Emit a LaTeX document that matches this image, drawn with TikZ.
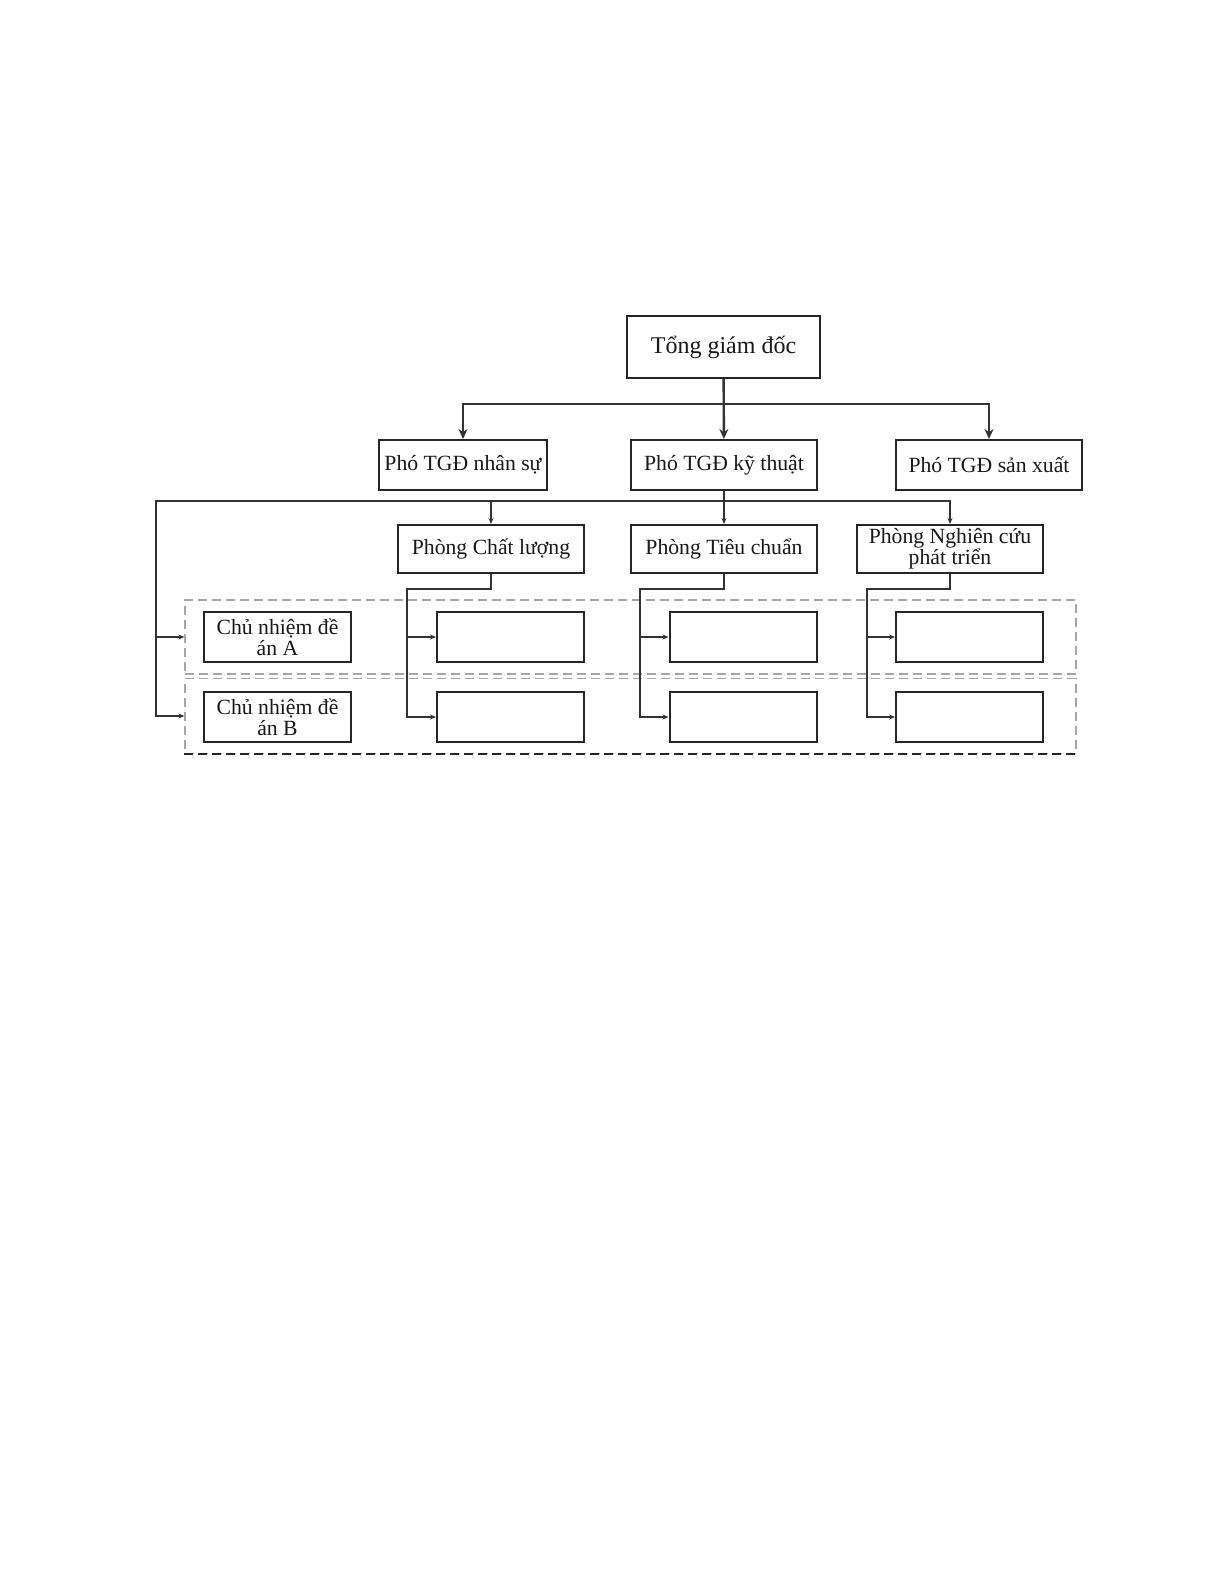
\documentclass[tikz,border=0pt]{standalone}
\usepackage{fontspec}
\setmainfont{Liberation Serif}
\usetikzlibrary{arrows.meta}

\def\lblsize{\fontsize{21.7}{21}\selectfont}

\begin{document}
\begin{tikzpicture}[x=1pt, y=-1pt,
    box/.style={draw=black!85, line width=2pt, rectangle, inner sep=0pt,
      align=center, font=\lblsize, text=black!90},
    group/.style={draw=black!35, line width=1.3pt, dash pattern=on 9pt off 5pt,
      rectangle, inner sep=0pt},
    link/.style={draw=black!80, line width=1.4pt},
    toparrow/.style={link, -{Stealth[length=10pt,width=9pt]}},
    smallarrow/.style={link, -{Stealth[length=6pt,width=5pt]}}]
      \useasboundingbox (0,0) rectangle (1225,1585);
      \fill[white] (0,0) rectangle (1225,1585);
      % top levels
      \node[box, minimum width=193pt, minimum height=62pt, font=\fontsize{24}{26}\selectfont] (tong) at (723.5,347) {Tổng giám đốc};
      \node[box, minimum width=168pt, minimum height=50pt] (phoNS) at (463,465) {Phó TGĐ nhân sự};
      \node[box, minimum width=186pt, minimum height=50pt] (phoKT) at (724,465) {Phó TGĐ kỹ thuật};
      \node[box, minimum width=186pt, minimum height=50pt] (phoSX) at (989,465) {Phó TGĐ sản xuất};
      % phong
      \node[box, minimum width=186pt, minimum height=48pt] (pCL) at (491,549) {Phòng Chất lượng};
      \node[box, minimum width=186pt, minimum height=48pt] (pTC) at (724,549) {Phòng Tiêu chuẩn};
      \node[box, minimum width=186pt, minimum height=48pt] (pNC) at (950,549) {Phòng Nghiên cứu\\phát triển};
      % project groups
      \node[group, minimum width=891pt, minimum height=74pt] (grpA) at (630.5,637) {};
      \node[group, minimum width=891pt, minimum height=75pt] (grpB) at (630.5,716) {};
      \draw[black!85, line width=2pt, dash pattern=on 9pt off 5pt] (grpB.south west) -- (grpB.south east);
      \node[box, minimum width=147pt, minimum height=50pt] (cnA) at (277.5,637) {Chủ nhiệm đề\\án A};
      \node[box, minimum width=147pt, minimum height=50pt] (cnB) at (277.5,717) {Chủ nhiệm đề\\án B};
      \foreach \n/\x in {1/510.5, 2/743, 3/969.5} {
        \node[box, minimum width=147pt, minimum height=50pt] (a\n) at (\x,637) {};
        \node[box, minimum width=147pt, minimum height=50pt] (b\n) at (\x,717) {};
      }
      % connectors
      \coordinate (busTop) at (724,404);
      \coordinate (busMid) at (724,501);
      \coordinate (leftTop) at (156,501);
      \path (leftTop |- grpA.west) coordinate (leftA);
      \draw[toparrow, line width=2.4pt] (tong) -- (phoKT);
      \draw[toparrow] (busTop) -| (phoNS);
      \draw[toparrow] (busTop) -| (phoSX);
      \draw[link] (phoKT) -- (busMid);
      \draw[smallarrow] (busMid) -| (pCL);
      \draw[smallarrow] (busMid) -- (pTC);
      \draw[smallarrow] (busMid) -| (pNC);
      \draw[smallarrow] (busMid) -- (leftTop) |- (grpB.west);
      \draw[smallarrow] (leftA) -- (grpA.west);
      \foreach \n/\p/\x in {1/pCL/407, 2/pTC/640, 3/pNC/867} {
        \coordinate (turn\n) at (\x,589);
        \path (turn\n |- a\n.west) coordinate (split\n);
        \draw[smallarrow] (\p.south) |- (turn\n) |- (b\n.west);
        \draw[smallarrow] (split\n) -- (a\n.west);
      }
    \end{tikzpicture}
\end{document}
